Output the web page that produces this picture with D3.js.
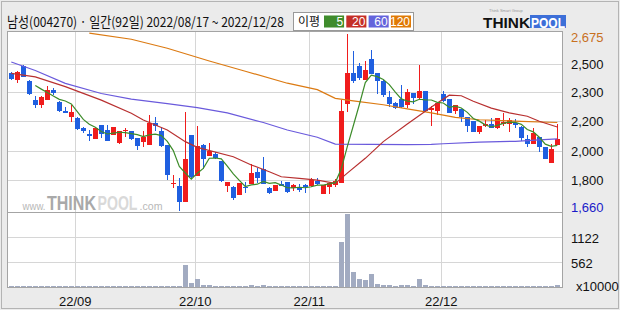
<!DOCTYPE html>
<html>
<head>
<meta charset="utf-8">
<script src="https://cdn.jsdelivr.net/npm/d3@7"></script>
<style>
  body { margin: 0; background: #ebebeb; }
  svg { display: block; }
</style>
</head>
<body>
<div id="chart"></div>
<script>
// 남성(004270) daily candles, 2022/08/17 ~ 2022/12/28 (92 trading days)

const opens  = [2450,2410,2490,2405,2295,2265,2295,2355,2285,2235,2195,2190,2135,2100,2070,2150,2125,2095,2050,2120,
                2115,2075,2055,2035,2165,2115,2035,1810,1801,1711,2095,1860,2038,1973,1985,1946,1801,1797,1751,1797,
                1814,1883,1897,1789,1774,1812,1825,1789,1789,1808,1803,1831,1757,1797,1808,1820,2274,2450,2490,2409,
                2531,2450,2406,2311,2278,2300,2265,2335,2307,2345,2238,2234,2330,2303,2231,2244,2200,2175,2113,2146,
                2159,2136,2159,2159,2162,2140,2069,2044,2083,2025,1935,2038];
const highs  = [2455,2460,2495,2410,2320,2320,2375,2365,2290,2255,2265,2195,2140,2125,2140,2150,2150,2140,2115,2135,
                2115,2075,2115,2210,2200,2140,2035,1862,1847,2225,2095,2145,2045,2048,1995,1946,1824,1800,1816,1824,
                1926,1904,1968,1795,1808,1830,1825,1810,1813,1812,1845,1848,1808,1818,1843,2297,2675,2579,2510,2521,
                2585,2450,2410,2348,2285,2382,2360,2335,2498,2345,2259,2285,2345,2303,2267,2244,2200,2175,2146,2180,
                2190,2192,2219,2192,2186,2145,2092,2134,2083,2025,2044,2157];
const lows   = [2410,2395,2425,2325,2250,2250,2295,2325,2225,2220,2170,2125,2105,2060,2070,2075,2060,2095,2045,2085,
                2065,2010,2025,2035,2120,2025,1837,1788,1660,1711,1843,1860,1899,1973,1955,1824,1766,1720,1751,1760,
                1814,1818,1811,1755,1774,1800,1760,1770,1766,1760,1795,1808,1755,1755,1795,1820,2228,2391,2409,2409,
                2445,2330,2313,2257,2245,2250,2250,2270,2295,2225,2148,2210,2285,2222,2215,2170,2113,2113,2100,2140,
                2136,2130,2148,2113,2136,2060,2025,2044,1996,1958,1935,2038];
const closes = [2415,2455,2430,2330,2265,2310,2355,2335,2230,2220,2225,2130,2115,2090,2135,2100,2060,2140,2115,2125,
                2070,2030,2085,2165,2145,2030,1862,1820,1711,1956,1853,2033,1958,2003,1962,1831,1824,1732,1816,1788,
                1876,1845,1811,1762,1808,1805,1768,1808,1780,1793,1834,1814,1808,1818,1828,2234,2450,2406,2422,2468,
                2447,2406,2326,2272,2250,2255,2342,2307,2345,2234,2249,2276,2288,2222,2267,2196,2148,2113,2146,2159,
                2136,2192,2171,2181,2156,2077,2042,2106,2024,1958,2015,2071];
// volume, x10000 shares
const volumes = [20,20,20,20,20,20,20,20,20,20,20,20,20,20,20,20,20,20,20,20,
                 20,20,20,40,20,20,20,20,20,500,100,187,45,45,20,20,20,20,20,20,
                 45,20,45,20,20,20,20,20,20,20,20,20,20,20,20,1018,1648,351,187,164,
                 302,78,45,45,20,45,45,20,187,45,20,20,20,20,20,20,20,20,20,20,
                 20,20,20,20,20,20,20,20,20,20,20,45];

// moving averages (index of trading day, price)
const ma20Idx  = [0,4,9,15,20,22,26,29,31,37,40,43,45,48,51,54,56,59,62,66,69,71,73,75,77,80,83,86,88,91];
const ma20Val  = [2449,2428,2372,2295,2219,2180,2123,2056,2023,1969,1922,1883,1854,1845,1835,1816,1875,1960,2056,2157,2231,2278,2323,2320,2288,2249,2221,2202,2173,2140];
const ma60Idx  = [0,4,9,15,20,26,31,36,42,46,51,54,60,66,70,72,78,84,88,91];
const ma60Val  = [2514,2465,2391,2333,2301,2275,2252,2221,2166,2123,2081,2042,2040,2039,2040,2044,2053,2058,2066,2072];
const ma120Idx = [13,20,26,33,39,46,51,54,57,62,66,70,74,78,85,91];
const ma120Val = [2680,2645,2593,2520,2461,2392,2355,2305,2290,2268,2244,2221,2196,2182,2173,2166];

const priceGrid   = [2505, 2339, 2172, 2005, 1838];
const priceLabels = ["2,500", "2,300", "2,200", "2,000", "1,800"];
const volGrid     = [562, 1122];
const volLabels   = ["562", "1122"];
const monthIdx    = [11, 31, 50, 72];
const monthLabels = ["22/09", "22/10", "22/11", "22/12"];
const priceMax = 2675, priceMin = 1660;

const W = 620, H = 310;
const plot = { left: 7, right: 562, top: 31.5, mid: 212.3, bottom: 287.3 };
const font = "'Liberation Sans', Arial, sans-serif";

const svg = d3.select("#chart").append("svg")
    .attr("width", W).attr("height", H);

// squeeze a text horizontally into a given width with a transform
function fitText(sel, x0, y0, width) {
    const len = sel.node().getComputedTextLength();
    sel.attr("x", 0).attr("y", 0)
        .attr("transform", `translate(${x0},${y0}) scale(${width / len},1)`);
}

svg.append("rect").attr("x", 0).attr("y", 0).attr("width", W).attr("height", H).attr("fill", "#ebebeb");
svg.append("rect").attr("x", 1.5).attr("y", 1.5).attr("width", W - 3).attr("height", H - 3)
    .attr("fill", "none").attr("stroke", "#b4b4b4");

// plot area
svg.append("rect").attr("x", plot.left).attr("y", plot.top)
    .attr("width", plot.right - plot.left).attr("height", plot.bottom - plot.top)
    .attr("fill", "#fff");

const idx = d3.range(closes.length);
const x = d3.scaleBand().domain(idx).range([8.3, 560.3]);
const cx = i => x(i) + x.bandwidth() / 2;
const y = d3.scaleLinear().domain([priceMin, priceMax]).range([210.5, 34]);
const yv = d3.scaleLinear().domain([0, 1684]).range([plot.bottom, plot.mid]);

// grid
const grid = svg.append("g").attr("stroke", "#d6d6d6").attr("shape-rendering", "crispEdges");
grid.selectAll(".hp").data(priceGrid).enter().append("line")
    .attr("x1", plot.left).attr("x2", plot.right)
    .attr("y1", d => Math.round(y(d)) + 0.5).attr("y2", d => Math.round(y(d)) + 0.5);
grid.selectAll(".hv").data(volGrid).enter().append("line")
    .attr("x1", plot.left).attr("x2", plot.right)
    .attr("y1", d => Math.round(yv(d)) + 0.5).attr("y2", d => Math.round(yv(d)) + 0.5);
grid.selectAll(".vx").data(monthIdx).enter().append("line")
    .attr("x1", d => Math.round(cx(d) - 2) + 0.5).attr("x2", d => Math.round(cx(d) - 2) + 0.5)
    .attr("y1", plot.top).attr("y2", plot.bottom);

// watermark, one text per piece
const wmParts = [
    { t: "www.",  x: 22.5, w: 23, size: 11, weight: "normal", fill: "#b8b8b8" },
    { t: "THINK", x: 47,   w: 49, size: 20, weight: "bold",   fill: "#a9a9a9" },
    { t: "POOL",  x: 97.5, w: 40, size: 20, weight: "bold",   fill: "#d9d9d9" },
    { t: ".com",  x: 139.5, w: 23, size: 11, weight: "normal", fill: "#b8b8b8" }
];
const wmg = svg.append("g");
wmParts.forEach(d => {
    const t = wmg.append("text").attr("font-family", font).attr("font-size", d.size)
        .attr("font-weight", d.weight).attr("fill", d.fill).text(d.t);
    fitText(t, d.x, 209.5, d.w);
});

// volume bars
svg.append("g").selectAll("rect").data(idx).enter().append("rect")
    .attr("x", i => x(i) + 0.5).attr("width", 5)
    .attr("y", i => yv(volumes[i])).attr("height", i => plot.bottom - yv(volumes[i]))
    .attr("fill", "#a2abc1").attr("shape-rendering", "crispEdges");

// candles
const red = "#f01c1c", blue = "#1f5fe0";
const candles = svg.append("g").attr("shape-rendering", "crispEdges");
candles.selectAll("line").data(idx).enter().append("line")
    .attr("x1", i => Math.floor(cx(i)) + 0.5).attr("x2", i => Math.floor(cx(i)) + 0.5)
    .attr("y1", i => y(highs[i])).attr("y2", i => y(lows[i]))
    .attr("stroke", i => closes[i] >= opens[i] ? red : blue);
candles.selectAll("rect").data(idx).enter().append("rect")
    .attr("x", i => Math.floor(cx(i)) - 2).attr("width", 5)
    .attr("y", i => y(Math.max(opens[i], closes[i])))
    .attr("height", i => Math.max(1.5, Math.abs(y(opens[i]) - y(closes[i]))))
    .attr("fill", i => closes[i] >= opens[i] ? red : blue);

// moving averages
const ma5 = idx.filter(i => i >= 4).map(i => [i, d3.mean(closes.slice(i - 4, i + 1))]);
const toPts = (ii, vv) => ii.map((d, k) => [d, vv[k]]);
const line = d3.line().x(d => cx(d[0])).y(d => y(d[1]));
const maLines = [
    [toPts(ma120Idx, ma120Val), "#dc7a12"],
    [toPts(ma60Idx, ma60Val), "#6a5adc"],
    [toPts(ma20Idx, ma20Val), "#b83030"],
    [ma5, "#3d8c2a"]
];
maLines.forEach(([pts, col]) => {
    svg.append("path").attr("d", line(pts))
        .attr("fill", "none").attr("stroke", col).attr("stroke-width", 1.2);
});

// frame
const frame = svg.append("g").attr("stroke", "#a4a4a4").attr("fill", "none").attr("shape-rendering", "crispEdges");
frame.append("rect").attr("x", plot.left + 0.5).attr("y", plot.top)
    .attr("width", plot.right - plot.left).attr("height", plot.bottom - plot.top);
frame.append("line").attr("x1", plot.left).attr("x2", plot.right)
    .attr("y1", Math.round(plot.mid) + 0.5).attr("y2", Math.round(plot.mid) + 0.5);

// right axis labels
const axis = svg.append("g").attr("font-family", font).attr("font-size", 13).attr("fill", "#111");
axis.selectAll(".pl").data(priceGrid).enter().append("text")
    .attr("x", 571).attr("y", d => y(d) + 5).text((d, k) => priceLabels[k]);
axis.append("text").attr("x", 571).attr("y", y(priceMax) + 8).attr("fill", "#c8701e")
    .text(d3.format(",")(priceMax));
axis.append("text").attr("x", 571).attr("y", y(priceMin) + 1.5).attr("fill", "#1a1ac8")
    .text(d3.format(",")(priceMin));
axis.selectAll(".vl").data(volGrid).enter().append("text")
    .attr("x", 571).attr("y", d => yv(d) + 5.5).text((d, k) => volLabels[k]);
axis.append("text").attr("x", 576).attr("y", 290.5).text("x10000");

// x axis labels
svg.append("g").attr("font-family", font).attr("font-size", 13).attr("fill", "#111")
    .selectAll("text").data(monthIdx).enter().append("text")
    .attr("x", d => cx(d) - 2).attr("y", 306).attr("text-anchor", "middle")
    .text((d, k) => monthLabels[k]);

// header
const header = svg.append("text")
    .attr("font-family", "'Noto Sans CJK KR', sans-serif").attr("font-size", 13.5).attr("fill", "#111")
    .text("남성(004270) · 일간(92일) 2022/08/17 ~ 2022/12/28");
fitText(header, 7, 27, 277);

// legend
const legend = [["5", "#3f8c2c"], ["20", "#c52f28"], ["60", "#6464dc"], ["120", "#e07a06"]];
const lg = svg.append("g");
lg.append("rect").attr("x", 293.5).attr("y", 12.5).attr("width", 120).attr("height", 18)
    .attr("fill", "#fff").attr("stroke", "#999");
lg.append("text").attr("x", 298).attr("y", 26).attr("font-family", "'Noto Sans CJK KR', sans-serif")
    .attr("font-size", 12).attr("fill", "#111").text("이평");
const lx = d3.scaleBand().domain(legend.map(d => d[0])).range([324, 411]).paddingInner(0.1);
lg.selectAll(".lb").data(legend).enter().append("rect")
    .attr("x", d => lx(d[0])).attr("y", 15.5).attr("width", lx.bandwidth()).attr("height", 12)
    .attr("fill", d => d[1]);
lg.selectAll(".lt").data(legend).enter().append("text")
    .attr("x", d => lx(d[0]) + lx.bandwidth() - 1).attr("y", 26).attr("text-anchor", "end")
    .attr("font-family", font).attr("font-size", 12).attr("fill", "#fff").text(d => d[0]);

// logo
const logo = svg.append("g");
logo.append("text").attr("x", 489).attr("y", 12).attr("font-family", font).attr("font-size", 4)
    .attr("fill", "#999").text("Think Smart Group");
const lt1 = logo.append("text").attr("font-family", font).attr("font-size", 15)
    .attr("font-weight", "900").attr("fill", "#111").text("THINK");
fitText(lt1, 483, 28, 47);
logo.append("rect").attr("x", 530).attr("y", 15).attr("width", 36).attr("height", 13).attr("fill", "#3d6fd8");
const lt2 = logo.append("text").attr("font-family", font).attr("font-size", 15)
    .attr("font-weight", "900").attr("fill", "#fff").text("POOL");
fitText(lt2, 531, 27.5, 34);
</script>
</body>
</html>
